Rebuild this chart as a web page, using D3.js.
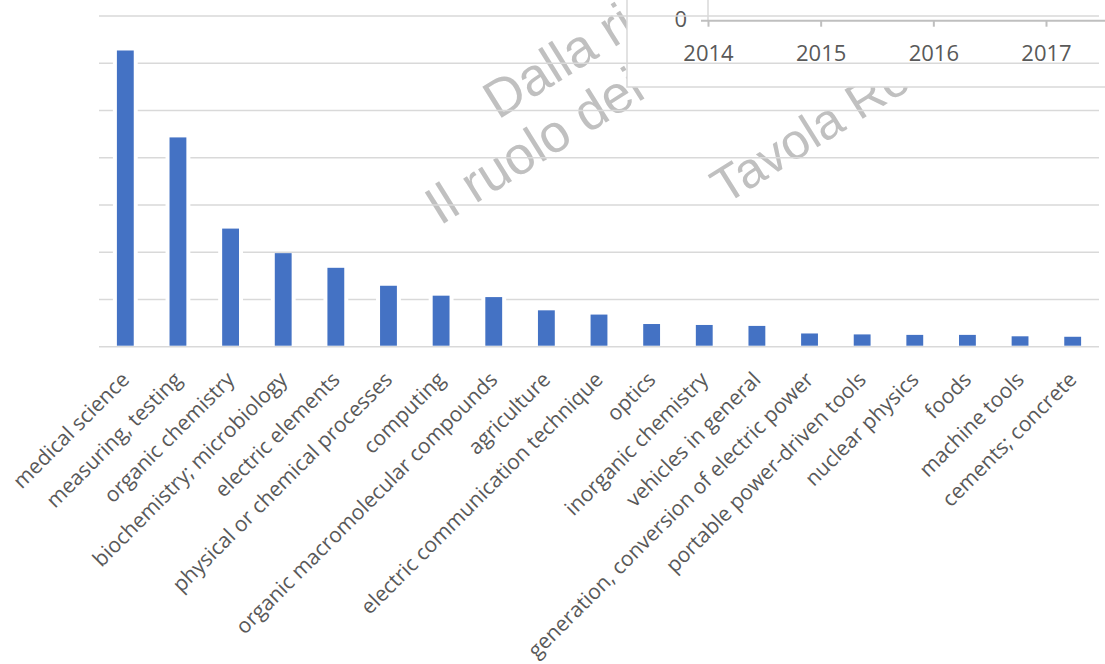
<!DOCTYPE html>
<html lang="en">
<head>
<meta charset="utf-8">
<title>Patent fields</title>
<script src="https://d3js.org/d3.v7.min.js"></script>
<style>
    body { margin: 0; background: #fff; }
    .xlab text { font-family: "Open Sans", sans-serif; font-size: 21px; fill: #595959; }
    .wm { font-family: "Liberation Sans", Arial, sans-serif; fill: #c0c0c0; }
    .inset text { font-family: "Open Sans", sans-serif; font-size: 22px; fill: #595959; }
</style>
</head>
<body>
<div class="chart"></div>
<script>
// data (units: one gridline = 100)
var categories = ["medical science", "measuring, testing", "organic chemistry",
    "biochemistry; microbiology", "electric elements", "physical or chemical processes",
    "computing", "organic macromolecular compounds", "agriculture",
    "electric communication technique", "optics", "inorganic chemistry",
    "vehicles in general", "generation, conversion of electric power",
    "portable power-driven tools", "nuclear physics", "foods", "machine tools",
    "cements; concrete"];
var values = [627, 443, 250, 198, 167, 129, 108, 105, 77, 68, 48, 46, 44, 28, 26, 25, 25, 22, 21];
var gridTicks = [0, 100, 200, 300, 400, 500, 600, 700];

// fragment of the other chart lying on top
var insetYears = [2014, 2015, 2016, 2017];
var insetYTicks = [0];
var watermarkLines = ["Dalla ricerca all'impresa", "Il ruolo dei brevetti", "Tavola Rotonda"];

var width = 1105, height = 664;
var plotLeft = 99, plotRight = 1099, plotTop = 16, plotBottom = 346.7;

var svg = d3.select(".chart").append("svg")
    .attr("width", width)
    .attr("height", height);

// watermark under everything
var wmPos = [[498, 120], [440, 226], [725, 205]];
var wmSize = [53, 53, 50];
svg.selectAll(".wm")
    .data(watermarkLines)
    .enter().append("text")
    .attr("class", "wm")
    .attr("font-size", function(d, i) { return wmSize[i]; })
    .attr("transform", function(d, i) { return "translate(" + wmPos[i][0] + "," + wmPos[i][1] + ") rotate(-32)"; })
    .text(function(d) { return d; });

// inset box hides the rest of the watermark
var inset = svg.append("g").attr("class", "inset");
inset.append("rect")
    .attr("x", 627).attr("y", -2)
    .attr("width", width - 627 + 2).attr("height", 89)
    .style("fill", "#fff");

var x = d3.scaleBand()
    .domain(categories)
    .range([plotLeft, plotRight])
    .paddingInner(0.68)
    .paddingOuter(0.34);

var y = d3.scaleLinear()
    .domain([0, 700])
    .range([plotBottom, plotTop]);

// gridlines
svg.append("g")
    .selectAll("line")
    .data(gridTicks)
    .enter().append("line")
    .attr("x1", plotLeft).attr("x2", plotRight)
    .attr("y1", function(d) { return y(d); })
    .attr("y2", function(d) { return y(d); })
    .style("stroke", "#d9d9d9")
    .style("stroke-width", 1.5);

// white halo behind bars, then bars
svg.append("g")
    .selectAll("rect")
    .data(values)
    .enter().append("rect")
    .attr("x", function(d, i) { return x(categories[i]) - 4; })
    .attr("width", x.bandwidth() + 8)
    .attr("y", function(d) { return y(d); })
    .attr("height", function(d) { return y(0) - y(d) - 1; })
    .style("fill", "#fff");

svg.append("g")
    .selectAll("rect")
    .data(values)
    .enter().append("rect")
    .attr("x", function(d, i) { return x(categories[i]); })
    .attr("width", x.bandwidth())
    .attr("y", function(d) { return y(d); })
    .attr("height", function(d) { return y(0) - y(d) - 1; })
    .style("fill", "#4472c4");

// category labels
var xAxis = d3.axisBottom(x).tickSize(0).tickPadding(0);
var gx = svg.append("g")
    .attr("class", "xlab")
    .attr("transform", "translate(0," + plotBottom + ")")
    .call(xAxis);
gx.select(".domain").remove();
gx.selectAll(".tick text")
    .attr("text-anchor", "end")
    .attr("dy", "0.35em")
    .attr("y", 0)
    .attr("transform", "translate(0,29) rotate(-45)")
    .attr("fill", null);
gx.attr("font-family", null).attr("font-size", null);

// inset frame and axes
inset.append("path")
    .attr("d", "M627,0V87H" + width)
    .style("fill", "none").style("stroke", "#d9d9d9").style("stroke-width", 1.5);

var ix = d3.scaleLinear().domain([2014, 2017]).range([708, 1046]);
var iy = d3.scaleLinear().domain([0, 1]).range([20.7, -30]);

inset.append("line")
    .attr("x1", ix(2014)).attr("x2", ix(2014))
    .attr("y1", 0).attr("y2", iy(0))
    .style("stroke", "#d9d9d9").style("stroke-width", 1.5);

var gix = inset.append("g")
    .attr("transform", "translate(0," + iy(0) + ")")
    .call(d3.axisBottom(ix).tickValues(insetYears).tickFormat(d3.format("d")).tickSize(6).tickPadding(19).tickSizeOuter(0));
gix.select(".domain").attr("d", "M" + (ix(2014) - 7) + ",0H" + width);
gix.selectAll("line, .domain").style("stroke", "#bfbfbf").style("stroke-width", 2);
gix.attr("font-family", null).attr("font-size", null);
gix.selectAll("text").attr("fill", null);

inset.selectAll(".ylab")
    .data(insetYTicks)
    .enter().append("text")
    .attr("class", "ylab")
    .attr("x", 687)
    .attr("y", function(d) { return iy(d); })
    .attr("dy", "0.3em")
    .attr("text-anchor", "end")
    .text(function(d) { return d; });
</script>
</body>
</html>
